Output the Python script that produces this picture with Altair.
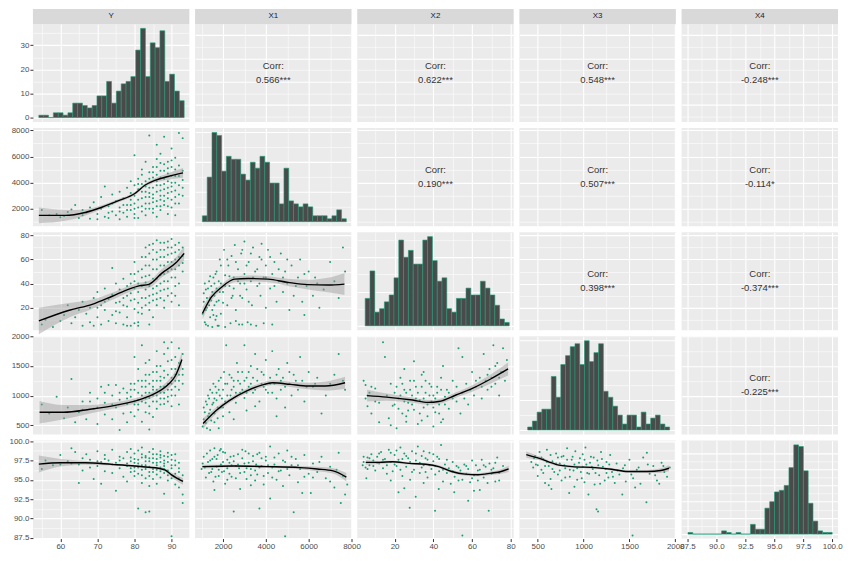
import numpy as np
import pandas as pd
import altair as alt

names = ["Y", "X1", "X2", "X3", "X4"]

# axis ranges (x: variable as a column, y: variable as a row)
x_domain = {"Y": [52.6, 94.8], "X1": [696, 8000], "X2": [0.7, 81.5],
            "X3": [300, 2006], "X4": [87.0, 100.5]}
y_domain = {"Y": [52.6, 94.8], "X1": [672, 8170], "X2": [1.2, 82.7],
            "X3": [345, 2000], "X4": [87.4, 100.1]}
major = {"Y": [60, 70, 80, 90], "X1": [2000, 4000, 6000, 8000], "X2": [20, 40, 60, 80],
         "X3": [500, 1000, 1500, 2000], "X4": [87.5, 90, 92.5, 95, 97.5, 100]}
minor = {"Y": [55, 65, 75, 85], "X1": [1000, 3000, 5000, 7000], "X2": [10, 30, 50, 70],
         "X3": [750, 1250, 1750], "X4": [88.75, 91.25, 93.75, 96.25, 98.75]}
fmt = {"Y": "d", "X1": "d", "X2": "d", "X3": "d", "X4": ".1f"}

# diagonal histograms (30 bins)
y_counts = [1, 1, 0, 2, 2, 1, 2, 6, 6, 5, 4, 5, 9, 9, 15, 6, 11, 14, 15, 17, 28, 37, 17, 31, 29, 36, 15, 18, 11, 7]
x1_counts = [2, 15, 30, 29, 17, 22, 21, 21, 16, 14, 20, 18, 22, 20, 13, 13, 6, 18, 7, 6, 5, 6, 5, 2, 2, 2, 1, 2, 4, 1]
x2_counts = [8, 16, 4, 5, 7, 9, 14, 25, 20, 22, 18, 18, 25, 26, 19, 13, 14, 5, 4, 8, 8, 11, 9, 9, 13, 11, 9, 6, 2, 1]
x3_counts = [1, 3, 6, 7, 7, 18, 11, 22, 25, 28, 29, 22, 30, 23, 26, 29, 13, 11, 8, 5, 2, 5, 5, 1, 6, 2, 4, 5, 2, 1]
x4_counts = [1, 0, 0, 0, 0, 0, 0, 2, 1, 0, 1, 0, 0, 6, 3, 3, 16, 20, 26, 27, 30, 41, 55, 54, 39, 19, 8, 2, 1, 1]
hist_counts = {"Y": y_counts, "X1": x1_counts, "X2": x2_counts, "X3": x3_counts, "X4": x4_counts}
hist_range = {"Y": (54.2, 93.4), "X1": (1037, 7758), "X2": (4.8, 79.2),
              "X3": (390, 1938), "X4": (87.55, 100.0)}
count_major = {"Y": [0, 10, 20, 30], "X1": [0, 10, 20, 30], "X2": [0, 10, 20],
               "X3": [0, 10, 20, 30], "X4": [0, 10, 20, 30, 40, 50]}
count_minor = {"Y": [5, 15, 25, 35], "X1": [5, 15, 25], "X2": [5, 15, 25],
               "X3": [5, 15, 25], "X4": [5, 15, 25, 35, 45]}

# upper triangle
corr = {("Y", "X1"): "0.566***", ("Y", "X2"): "0.622***", ("Y", "X3"): "0.548***",
        ("Y", "X4"): "-0.248***", ("X1", "X2"): "0.190***", ("X1", "X3"): "0.507***",
        ("X1", "X4"): "-0.114*", ("X2", "X3"): "0.398***", ("X2", "X4"): "-0.374***",
        ("X3", "X4"): "-0.225***"}

# lower triangle scatter points (x var, y var)
pts_y_x1 = [(55, 1900), (57, 1500), (59, 1600), (61, 1450), (62, 1750), (63, 1950), (64, 2300), (65, 1300),
            (66, 1500), (67, 1700), (68, 1250), (68, 2100), (69, 2500), (70, 1600), (70, 1200), (71, 2000),
            (71, 2900), (72, 1400), (72, 3700), (73, 2200), (73, 1300), (74, 3100), (74, 1800), (75, 2600),
            (75, 1500), (76, 3300), (76, 2100), (76, 1200), (77, 2800), (77, 1700), (78, 3600), (78, 2300),
            (78, 1400), (79, 4100), (79, 2700), (79, 1900), (79, 3200), (80, 6100), (80, 3800), (80, 2400),
            (80, 1600), (80, 3000), (81, 4300), (81, 2100), (81, 3500), (81, 1300), (82, 5000), (82, 2800),
            (82, 3900), (82, 1800), (82, 4600), (83, 3300), (83, 2400), (83, 5600), (83, 1500), (83, 4100),
            (84, 7600), (84, 2900), (84, 3600), (84, 2000), (84, 4800), (85, 5200), (85, 3100), (85, 1700),
            (85, 4400), (85, 2500), (86, 6900), (86, 3800), (86, 2200), (86, 5800), (86, 4100), (86, 1400),
            (87, 6200), (87, 3400), (87, 2700), (87, 4900), (87, 1900), (88, 7500), (88, 4300), (88, 3000),
            (88, 5400), (88, 2300), (89, 3600), (89, 4700), (89, 1600), (89, 2800), (90, 6600), (90, 4000),
            (90, 5200), (90, 2100), (90, 3300), (91, 4500), (91, 2900), (91, 5900), (91, 1500), (92, 7800),
            (92, 3800), (92, 2400), (93, 7400), (93, 4200), (93, 3000),
            (80, 2000), (81, 2700), (81, 3900), (82, 2200), (82, 3300), (83, 2000), (83, 2900), (83, 3700),
            (84, 2400), (84, 3200), (84, 4300), (85, 2000), (85, 2800), (85, 3600), (85, 4800), (86, 2600),
            (86, 3300), (86, 4600), (86, 5200), (87, 2200), (87, 3000), (87, 3800), (87, 4400), (87, 5500),
            (88, 2600), (88, 3500), (88, 3900), (88, 4900), (89, 2200), (89, 3200), (89, 4100), (89, 5100),
            (89, 5600), (90, 2700), (90, 3700), (90, 4500), (90, 5700), (91, 2400), (91, 3400), (91, 4000),
            (91, 5000), (92, 3100), (92, 4500), (92, 5300), (93, 3600), (93, 4900), (77, 2300), (78, 1900),
            (79, 2300), (80, 1300), (76, 1800), (74, 2400), (73, 1700), (66, 1900), (60, 1350)]
pts_y_x2 = [(55, 6), (56, 10), (58, 4), (60, 9), (61, 14), (62, 22), (63, 7), (64, 12), (65, 18), (66, 5),
            (66, 25), (67, 15), (68, 20), (68, 8), (69, 5), (69, 28), (70, 12), (70, 33), (71, 6), (71, 22),
            (72, 18), (72, 36), (73, 9), (73, 27), (74, 53), (74, 14), (74, 31), (75, 7), (75, 24), (75, 40),
            (76, 16), (76, 35), (77, 6), (77, 28), (77, 44), (78, 21), (78, 12), (78, 38), (79, 5), (79, 32),
            (79, 26), (79, 48), (80, 7), (80, 19), (80, 36), (80, 42), (80, 58), (81, 24), (81, 33), (81, 50),
            (81, 8), (82, 28), (82, 45), (82, 62), (82, 15), (82, 38), (83, 22), (83, 35), (83, 55), (83, 70),
            (83, 41), (84, 30), (84, 47), (84, 18), (84, 65), (84, 38), (85, 26), (85, 52), (85, 73), (85, 36),
            (85, 12), (86, 44), (86, 60), (86, 32), (86, 76), (86, 22), (87, 40), (87, 55), (87, 68), (87, 28),
            (88, 48), (88, 62), (88, 74), (88, 35), (88, 20), (89, 58), (89, 70), (89, 42), (89, 30), (90, 65),
            (90, 77), (90, 52), (90, 25), (91, 60), (91, 72), (91, 45), (91, 38), (92, 68), (92, 55), (92, 22),
            (93, 63), (93, 50),
            (80, 27), (80, 48), (81, 40), (81, 16), (82, 20), (82, 52), (83, 28), (83, 46), (83, 62), (84, 24),
            (84, 55), (84, 72), (85, 31), (85, 44), (85, 60), (85, 68), (86, 27), (86, 38), (86, 52), (86, 66),
            (87, 34), (87, 47), (87, 62), (87, 74), (88, 26), (88, 42), (88, 55), (88, 68), (89, 36), (89, 50),
            (89, 64), (89, 75), (90, 32), (90, 45), (90, 58), (90, 70), (91, 52), (91, 66), (91, 30), (92, 40),
            (92, 62), (92, 74), (93, 57), (93, 70), (79, 40), (78, 30), (77, 22), (76, 25), (75, 17), (72, 25),
            (70, 20), (81, 5), (84, 6), (78, 5)]
pts_x1_x2 = [(1050, 15), (1100, 25), (1150, 8), (1200, 35), (1250, 20), (1300, 5), (1350, 42), (1400, 12),
             (1400, 28), (1450, 38), (1500, 18), (1500, 4), (1550, 45), (1600, 30), (1600, 22), (1650, 10),
             (1700, 50), (1700, 36), (1750, 5), (1800, 26), (1850, 60), (1900, 40), (1900, 15), (2000, 33),
             (2050, 68), (2100, 4), (2100, 47), (2200, 22), (2250, 55), (2300, 38), (2350, 7), (2400, 63),
             (2450, 30), (2500, 45), (2550, 72), (2600, 18), (2700, 52), (2750, 6), (2800, 40), (2850, 65),
             (2900, 28), (3000, 75), (3000, 48), (3100, 35), (3150, 8), (3200, 58), (3300, 42), (3350, 22),
             (3400, 70), (3500, 50), (3550, 5), (3600, 38), (3700, 62), (3750, 30), (3800, 73), (3900, 45),
             (4000, 55), (4000, 20), (4100, 68), (4200, 36), (4300, 48), (4400, 58), (4500, 25), (4600, 42),
             (4700, 65), (4800, 33), (4900, 50), (5000, 40), (5100, 18), (5200, 55), (5300, 30), (5500, 45),
             (5600, 60), (5700, 25), (5900, 38), (6000, 50), (6200, 30), (6300, 45), (6500, 20), (6700, 35),
             (7000, 58), (7200, 42), (7400, 28), (7600, 70), (7700, 50), (5800, 14), (4300, 6), (2600, 9),
             (1700, 13),
             (1100, 32), (1150, 40), (1200, 18), (1250, 28), (1300, 36), (1350, 22), (1400, 46), (1450, 26),
             (1500, 33), (1550, 14), (1600, 40), (1650, 48), (1700, 25), (1800, 42), (1850, 33), (1900, 55),
             (2000, 24), (2100, 38), (2200, 60), (2300, 46), (2400, 28), (2500, 36), (2600, 58), (2700, 42),
             (2800, 30), (2900, 68), (3000, 40), (3100, 55), (3200, 25), (3300, 65), (3400, 45), (3600, 52),
             (3700, 40), (3800, 60), (4000, 45), (4200, 62), (4400, 38), (4600, 52), (4800, 45), (5000, 60),
             (5400, 38), (5800, 48), (6400, 40), (1200, 6), (1800, 5), (3300, 6), (3900, 7), (2900, 6)]
pts_y_x3 = [(55, 850), (57, 700), (59, 980), (61, 620), (62, 800), (63, 1280), (64, 550), (65, 720), (66, 900),
            (67, 600), (68, 1050), (69, 780), (70, 520), (70, 950), (71, 1150), (72, 680), (72, 880), (73, 1180),
            (74, 600), (74, 1000), (75, 800), (75, 1180), (76, 420), (76, 930), (77, 700), (77, 1120), (78, 860),
            (78, 550), (78, 1050), (79, 980), (79, 720), (79, 1200), (80, 850), (80, 650), (80, 1100), (80, 1650),
            (81, 930), (81, 1250), (81, 760), (82, 1000), (82, 560), (82, 1150), (82, 1850), (83, 880),
            (83, 1350), (83, 1050), (83, 720), (84, 960), (84, 1200), (84, 1600), (84, 820), (84, 430),
            (85, 1100), (85, 1400), (85, 900), (85, 640), (86, 1000), (86, 1250), (86, 1750), (86, 780),
            (87, 1150), (87, 1500), (87, 950), (87, 1320), (88, 1050), (88, 1700), (88, 860), (88, 1420),
            (89, 1200), (89, 980), (89, 1580), (89, 1800), (90, 1300), (90, 1100), (90, 1900), (90, 820),
            (91, 1450), (91, 1250), (91, 1650), (91, 1000), (92, 1800), (92, 1350), (92, 1550), (92, 850),
            (93, 1700), (93, 1200), (93, 1450),
            (78, 950), (79, 1100), (80, 900), (80, 1200), (81, 1050), (81, 850), (82, 1250), (82, 900),
            (83, 1150), (83, 950), (83, 1250), (84, 1050), (84, 1350), (84, 700), (85, 1000), (85, 1250),
            (85, 1150), (86, 900), (86, 1100), (86, 1400), (87, 1050), (87, 1250), (87, 850), (88, 1150),
            (88, 1300), (88, 950), (89, 1100), (89, 1350), (89, 900), (90, 1200), (90, 1450), (90, 1000),
            (91, 1150), (91, 1350), (92, 1100), (92, 1250), (93, 1350), (76, 1050), (74, 850), (72, 1050),
            (70, 800), (68, 900), (66, 760), (83, 1550), (86, 1500), (90, 1600), (88, 1900), (81, 1450)]
pts_x1_x3 = [(1050, 480), (1100, 600), (1150, 720), (1200, 540), (1250, 850), (1300, 650), (1350, 950),
             (1400, 760), (1450, 580), (1500, 1050), (1550, 880), (1600, 700), (1650, 1150), (1700, 920),
             (1750, 620), (1800, 1250), (1850, 1000), (1900, 800), (2000, 1100), (2050, 1400), (2100, 900),
             (2150, 1850), (2200, 1200), (2300, 720), (2350, 1000), (2400, 1300), (2500, 1150), (2600, 880),
             (2650, 1550), (2700, 1250), (2800, 1050), (2900, 1400), (3000, 1850), (3000, 960), (3100, 1300),
             (3200, 1150), (3300, 1500), (3400, 1050), (3500, 1700), (3600, 1250), (3700, 900), (3800, 1400),
             (3900, 1150), (4000, 1600), (4100, 1050), (4200, 1300), (4300, 1750), (4400, 1200), (4500, 950),
             (4600, 1450), (4700, 1100), (4800, 1300), (4900, 800), (5000, 1550), (5100, 1200), (5200, 1000),
             (5300, 1350), (5500, 1100), (5600, 1650), (5700, 1250), (5800, 900), (6000, 1400), (6200, 1150),
             (6400, 1300), (6600, 700), (6800, 1000), (7000, 1200), (7200, 1350), (7400, 1700), (7600, 1250),
             (7700, 1100), (4500, 650), (3500, 820), (2500, 600), (1800, 450), (1400, 420),
             (1100, 800), (1150, 550), (1200, 900), (1300, 1000), (1350, 700), (1400, 1100), (1500, 850),
             (1550, 1200), (1600, 950), (1700, 1050), (1750, 800), (1800, 1100), (1900, 1300), (1950, 950),
             (2000, 800), (2100, 1200), (2200, 1000), (2300, 1350), (2400, 1100), (2500, 1250), (2600, 1050),
             (2700, 1400), (2800, 1200), (2900, 1100), (3000, 1250), (3100, 1050), (3200, 1400), (3300, 1200),
             (3400, 1300), (3500, 1100), (3600, 1450), (3800, 1200), (3900, 1350), (4000, 1100), (4200, 1200),
             (4300, 1050), (4500, 1350), (4700, 1250), (4900, 1150), (5100, 1400), (5400, 1250), (5900, 1150),
             (6300, 1200), (1250, 450), (1600, 550), (2000, 650), (3100, 750)]
pts_x2_x3 = [(4, 1250), (5, 950), (5, 1180), (6, 820), (7, 1050), (8, 700), (10, 1120), (12, 880), (14, 1900),
             (15, 1650), (16, 1000), (17, 620), (18, 1200), (19, 830), (20, 1050), (21, 450), (22, 950),
             (23, 1300), (24, 700), (25, 1100), (26, 560), (27, 880), (28, 1250), (29, 1000), (30, 760),
             (31, 1150), (32, 520), (33, 920), (34, 1350), (35, 800), (36, 1050), (37, 650), (38, 1200),
             (39, 900), (40, 1000), (41, 720), (42, 1150), (43, 850), (44, 1300), (45, 600), (46, 980),
             (47, 1100), (48, 780), (50, 1250), (52, 900), (53, 1800), (54, 700), (55, 1050), (57, 1200),
             (58, 850), (60, 1400), (61, 1000), (62, 1150), (64, 1300), (65, 950), (66, 1700), (67, 1250),
             (68, 1100), (69, 1450), (70, 1300), (71, 1850), (72, 1200), (73, 1550), (74, 1000), (75, 1400),
             (76, 1800), (77, 1250), (78, 1600), (30, 1580), (35, 1400), (25, 1450), (45, 1500), (55, 1650),
             (12, 550), (40, 480),
             (20, 850), (21, 1150), (22, 780), (23, 1000), (24, 1200), (25, 900), (26, 1050), (27, 750),
             (28, 1100), (29, 850), (30, 1250), (31, 950), (32, 1050), (33, 700), (34, 1150), (35, 950),
             (36, 1250), (37, 850), (38, 1000), (39, 1150), (40, 800), (41, 950), (42, 1050), (43, 700),
             (44, 1100), (46, 850), (48, 1050), (50, 950), (52, 1150), (56, 950), (59, 1100), (62, 1250),
             (65, 1150), (68, 1350), (70, 1150), (72, 1500), (74, 1300), (76, 1400), (6, 1000), (8, 1150),
             (10, 900), (26, 650), (34, 580), (18, 500), (44, 550)]
pts_y_x4 = [(55, 96.4), (56, 97.5), (58, 96.9), (60, 98.2), (62, 97.4), (63, 99.1), (64, 98.6), (65, 94.6),
            (65, 97.0), (66, 96.2), (67, 98.3), (68, 97.6), (69, 95.1), (70, 96.8), (70, 98.7), (71, 97.3),
            (71, 94.5), (72, 96.1), (72, 98.2), (73, 97.5), (74, 95.9), (74, 98.9), (75, 93.6), (75, 97.2),
            (76, 96.5), (76, 98.0), (77, 95.4), (77, 97.8), (78, 96.8), (78, 98.6), (78, 94.8), (79, 97.4),
            (79, 96.0), (79, 99.0), (80, 95.5), (80, 97.7), (80, 96.6), (80, 98.4), (81, 91.3), (81, 97.1),
            (81, 95.8), (81, 98.8), (82, 96.3), (82, 97.9), (82, 94.6), (82, 99.2), (83, 90.8), (83, 96.9),
            (83, 95.2), (83, 98.1), (84, 90.9), (84, 97.4), (84, 96.0), (84, 98.6), (84, 94.2), (85, 97.8),
            (85, 96.4), (85, 95.1), (85, 99.0), (86, 97.2), (86, 95.7), (86, 98.3), (86, 94.5), (87, 96.6),
            (87, 97.9), (87, 95.3), (87, 98.7), (88, 93.2), (88, 96.8), (88, 97.5), (88, 95.9), (89, 96.2),
            (89, 98.0), (89, 94.9), (90, 87.7), (90, 96.5), (90, 97.6), (90, 95.2), (91, 96.9), (91, 94.4),
            (91, 98.3), (92, 94.0), (92, 96.0), (92, 97.2), (93, 92.0), (93, 93.1), (93, 95.6),
            (78, 97.1), (79, 97.9), (79, 96.5), (80, 96.1), (80, 97.2), (81, 96.6), (81, 97.6), (82, 96.9),
            (82, 95.6), (82, 98.3), (83, 97.4), (83, 96.4), (83, 97.9), (84, 96.7), (84, 97.8), (84, 95.5),
            (85, 97.2), (85, 96.0), (85, 98.3), (86, 96.9), (86, 97.7), (86, 96.3), (87, 97.3), (87, 96.1),
            (87, 98.2), (88, 96.4), (88, 98.1), (88, 97.1), (89, 97.3), (89, 95.6), (89, 98.5), (90, 96.9),
            (90, 98.2), (91, 95.8), (91, 97.5), (92, 96.5), (92, 95.2), (76, 97.5), (74, 97.0), (72, 97.7),
            (70, 97.4), (68, 96.6), (66, 97.8), (63, 97.1), (60, 97.0)]
pts_x1_x4 = [(1000, 96.4), (1100, 98.0), (1200, 95.3), (1300, 97.3), (1400, 98.8), (1450, 96.0), (1500, 97.7),
             (1550, 94.8), (1600, 93.7), (1600, 99.1), (1700, 96.7), (1750, 98.2), (1800, 95.5), (1900, 97.0),
             (2000, 98.6), (2050, 96.1), (2100, 94.5), (2200, 97.6), (2300, 95.8), (2350, 98.0), (2400, 96.9),
             (2500, 90.9), (2500, 97.4), (2600, 95.2), (2700, 98.3), (2750, 96.5), (2800, 93.8), (2900, 97.8),
             (3000, 96.0), (3050, 98.7), (3100, 95.1), (3200, 97.2), (3300, 96.4), (3400, 98.1), (3500, 94.9),
             (3550, 97.0), (3600, 95.7), (3700, 91.3), (3700, 98.5), (3800, 96.8), (3900, 94.4), (4000, 97.5),
             (4100, 95.9), (4200, 92.6), (4200, 99.3), (4300, 96.6), (4400, 97.9), (4500, 95.0), (4600, 98.4),
             (4700, 96.2), (4800, 94.2), (4900, 87.7), (4900, 97.3), (5000, 98.8), (5100, 95.6), (5200, 96.9),
             (5300, 90.8), (5400, 97.7), (5500, 94.7), (5600, 96.4), (5700, 93.3), (5800, 98.2), (6000, 95.8),
             (6100, 93.3), (6200, 97.1), (6400, 96.0), (6600, 98.0), (6800, 95.2), (7000, 96.7), (7200, 94.0),
             (7400, 98.5), (7500, 92.0), (7600, 95.5), (7700, 93.1), (7800, 94.4), (2200, 95.0), (3300, 94.3),
             (1900, 99.0),
             (1050, 97.1), (1150, 96.6), (1250, 98.4), (1350, 95.9), (1400, 97.5), (1500, 96.4), (1600, 98.0),
             (1650, 95.4), (1700, 97.7), (1800, 96.3), (1850, 98.8), (1950, 96.0), (2000, 97.3), (2100, 98.5),
             (2200, 96.5), (2300, 97.2), (2400, 95.4), (2500, 98.1), (2600, 96.8), (2700, 97.0), (2800, 95.9),
             (2900, 98.9), (3000, 97.1), (3100, 96.5), (3200, 98.4), (3300, 95.6), (3400, 97.4), (3500, 96.2),
             (3600, 98.3), (3700, 96.6), (3800, 97.8), (3900, 95.5), (4000, 98.0), (4100, 96.9), (4300, 95.3),
             (4400, 97.0), (4600, 96.1), (4800, 97.5), (5000, 96.4), (5200, 98.0), (5500, 96.9), (5800, 95.4),
             (6200, 95.3), (6500, 97.3), (7000, 94.8), (7300, 96.3)]
pts_x2_x4 = [(4, 97.3), (5, 96.6), (5.4, 95.2), (6, 97.9), (7, 96.9), (8, 98.3), (9, 97.5), (10, 96.2),
             (11, 98.0), (12, 97.1), (13, 98.6), (14, 96.5), (15, 97.7), (16, 95.8), (17, 98.9), (18, 97.3),
             (19, 96.1), (20, 98.2), (21, 96.8), (22, 93.4), (22, 97.6), (23, 99.2), (24, 95.5), (25, 98.4),
             (26, 96.7), (27, 97.8), (27.8, 91.4), (28, 95.0), (29, 98.7), (30, 96.3), (30.9, 92.8), (31, 97.5),
             (32, 99.3), (33, 95.9), (34, 98.1), (35, 96.9), (36, 97.8), (37, 95.3), (38, 98.5), (39, 96.4),
             (40, 97.4), (40.9, 91.0), (41, 95.7), (42, 98.0), (42.8, 93.8), (43, 96.1), (44, 99.5), (45, 94.8),
             (46, 97.0), (47, 95.9), (48, 96.5), (49, 94.5), (50, 97.3), (50.8, 93.4), (51, 95.4), (52, 96.8),
             (53, 94.9), (54, 96.2), (55, 87.8), (55, 95.0), (56, 97.0), (57, 95.8), (58, 92.3), (58, 96.4),
             (59, 94.7), (60, 97.5), (61, 93.6), (61, 95.6), (62, 96.9), (63, 94.9), (64, 93.7), (64, 96.3),
             (65, 97.6), (66, 95.3), (67, 96.7), (68, 94.6), (68.6, 91.0), (69, 97.1), (70, 95.8), (71, 96.5),
             (72, 94.8), (73, 97.9), (74, 95.9), (76, 96.8), (3.5, 96.9),
             (4, 98.0), (6, 96.4), (7, 97.8), (9, 96.8), (11, 97.2), (12, 98.4), (14, 97.6), (16, 96.9),
             (18, 98.5), (20, 97.0), (21, 98.8), (23, 96.3), (24, 97.7), (26, 98.1), (28, 97.3), (29, 96.0),
             (31, 98.4), (33, 97.2), (34, 96.6), (35, 98.7), (36, 96.0), (37, 97.6), (38, 96.9), (40, 98.3),
             (41, 96.8), (43, 97.7), (45, 96.3), (47, 97.6), (50, 96.1), (53, 96.6), (57, 96.8), (60, 95.2),
             (63, 96.2), (66, 96.9), (70, 96.3), (72, 97.2), (74, 94.9), (25, 93.9), (35, 94.6), (18, 94.9)]
pts_x3_x4 = [(430, 97.3), (450, 96.6), (470, 98.1), (480, 97.0), (500, 95.5), (520, 98.6), (540, 96.3),
             (560, 97.7), (580, 94.6), (600, 98.9), (620, 96.8), (640, 95.1), (649, 93.8), (660, 97.4),
             (680, 96.0), (700, 98.4), (720, 95.7), (740, 97.1), (760, 94.9), (780, 98.1), (800, 96.5),
             (820, 99.1), (843, 93.3), (850, 95.4), (870, 97.6), (890, 96.2), (910, 98.7), (930, 95.0),
             (950, 97.2), (970, 96.0), (990, 98.3), (1010, 94.7), (1030, 97.0), (1053, 93.1), (1060, 95.8),
             (1080, 98.0), (1100, 96.4), (1120, 94.4), (1141, 91.2), (1150, 97.5), (1158, 90.9), (1170, 95.6),
             (1190, 98.6), (1210, 96.7), (1230, 94.9), (1250, 97.3), (1270, 95.3), (1290, 98.2), (1310, 96.0),
             (1340, 94.6), (1360, 97.1), (1390, 95.7), (1422, 93.1), (1430, 96.5), (1460, 94.8), (1500, 97.6),
             (1534, 87.8), (1540, 95.2), (1562, 94.0), (1580, 96.3), (1620, 94.5), (1650, 97.9), (1685, 92.1),
             (1690, 98.5), (1720, 95.8), (1760, 96.8), (1800, 94.9), (1825, 94.5), (1850, 97.2), (1880, 96.0),
             (1910, 95.4), (1940, 96.6), (560, 95.9), (720, 97.9), (900, 94.1), (1020, 99.2), (1250, 95.9),
             (460, 97.8), (500, 96.9), (540, 97.9), (580, 96.8), (600, 97.3), (640, 98.2), (660, 96.4),
             (700, 97.1), (740, 96.2), (760, 98.0), (790, 96.9), (820, 97.6), (850, 96.3), (880, 98.0),
             (900, 97.0), (930, 96.5), (960, 97.8), (990, 96.7), (1010, 97.6), (1040, 95.9), (1070, 97.2),
             (1090, 96.7), (1110, 97.9), (1130, 95.9), (1160, 96.9), (1200, 97.7), (1240, 96.4), (1280, 97.0),
             (1320, 95.4), (1370, 96.2), (1450, 96.9), (1520, 95.7), (1600, 96.6), (1700, 97.0), (1780, 95.6),
             (1870, 96.8), (620, 94.3), (800, 95.3), (980, 95.2), (1180, 94.5)]
scatter = {("Y", "X1"): pts_y_x1, ("Y", "X2"): pts_y_x2, ("X1", "X2"): pts_x1_x2,
           ("Y", "X3"): pts_y_x3, ("X1", "X3"): pts_x1_x3, ("X2", "X3"): pts_x2_x3,
           ("Y", "X4"): pts_y_x4, ("X1", "X4"): pts_x1_x4, ("X2", "X4"): pts_x2_x4,
           ("X3", "X4"): pts_x3_x4}

# loess curves: x, fit, half-width of the band
smooth = {
    ("Y", "X1"): ([54.2, 61.3, 66.7, 71.2, 75.7, 80.1, 82.8, 85.5, 89.1, 93.1],
                  [1497, 1500, 1722, 2120, 2622, 3170, 3797, 4172, 4472, 4745],
                  [600, 420, 250, 160, 130, 130, 140, 170, 250, 380]),
    ("Y", "X2"): ([54.2, 62.4, 68.6, 74.0, 78.5, 81.2, 83.9, 87.5, 91.1, 93.4],
                  [9.0, 17.9, 22.8, 29.5, 35.4, 38.1, 39.4, 48.9, 57.0, 65.1],
                  [11, 6, 4, 3, 2.5, 2.5, 3, 3.5, 4.5, 6]),
    ("X1", "X2"): ([1046, 1463, 1931, 2548, 3169, 4101, 5032, 5964, 6895, 7670],
                   [15.4, 28.9, 37.0, 43.7, 44.2, 43.7, 41.0, 39.1, 38.8, 39.6],
                   [5, 3, 2.5, 2.5, 2.5, 2.5, 3, 4, 6, 9]),
    ("Y", "X3"): ([54.4, 60.9, 68.0, 75.1, 82.2, 85.7, 89.3, 91.0, 92.8],
                  [720, 720, 770, 840, 950, 1040, 1200, 1330, 1610],
                  [190, 120, 70, 50, 45, 50, 70, 90, 130]),
    ("X1", "X3"): ([1069, 1681, 2293, 3109, 3925, 4332, 5148, 5964, 6780, 7698],
                   [528, 748, 914, 1079, 1189, 1217, 1189, 1162, 1162, 1217],
                   [90, 50, 40, 40, 40, 40, 45, 55, 75, 100]),
    ("X2", "X3"): ([5.8, 15.9, 29.3, 37.2, 42.8, 51.7, 60.7, 69.6, 78.6],
                   [1000, 975, 925, 885, 900, 1010, 1130, 1280, 1450],
                   [100, 60, 45, 40, 40, 45, 55, 75, 110]),
    ("Y", "X4"): ([54.2, 60.0, 66.7, 73.9, 80.1, 83.7, 86.4, 88.2, 90.0, 93.1],
                  [97.04, 97.21, 97.21, 97.0, 96.79, 96.62, 96.5, 96.28, 95.65, 94.8],
                  [1.1, 0.5, 0.25, 0.15, 0.12, 0.12, 0.15, 0.2, 0.3, 0.45]),
    ("X1", "X4"): ([1037, 2503, 4049, 5593, 6400, 7137, 7758],
                   [96.71, 96.79, 96.71, 96.58, 96.4, 96.16, 95.35],
                   [0.25, 0.15, 0.15, 0.2, 0.28, 0.35, 0.55]),
    ("X2", "X4"): ([5.1, 12.2, 19.0, 27.5, 36.0, 42.8, 49.5, 56.4, 63.1, 69.9, 75.0, 78.9],
                   [97.26, 97.26, 97.34, 97.13, 97.01, 96.71, 96.08, 95.74, 95.66, 95.87, 96.08, 96.42],
                   [0.3, 0.2, 0.15, 0.15, 0.15, 0.18, 0.2, 0.2, 0.2, 0.25, 0.3, 0.4]),
    ("X3", "X4"): ([375, 518, 697, 876, 1126, 1305, 1483, 1698, 1842, 1931],
                   [98.27, 97.77, 97.01, 96.71, 96.58, 96.37, 96.07, 96.07, 96.20, 96.50],
                   [0.4, 0.25, 0.18, 0.15, 0.15, 0.15, 0.15, 0.2, 0.3, 0.4]),
}

W, H = 157, 98.5
TEAL = "#1B9E77"


def major_axis(vals, show, f, orient):
    kw = dict(values=vals, grid=True, gridColor="white", gridWidth=1.1, domain=False,
              title=None, orient=orient)
    if show:
        return alt.Axis(**kw, format=f, ticks=True, tickSize=3, tickWidth=1, tickColor="#333333",
                        labelColor="#4D4D4D", labelFontSize=8, labelPadding=1,
                        labelFlush=False, labelOverlap=False)
    return alt.Axis(**kw, labels=False, ticks=False)


def minor_axis(vals, orient):
    return alt.Axis(values=vals, grid=True, gridColor="white", gridWidth=0.55, domain=False,
                    labels=False, ticks=False, title=None, orient=orient)


def top_strip(label):
    base = alt.Chart(pd.DataFrame({"t": [label]}))
    box = base.mark_rect(color="#D9D9D9").encode(
        x=alt.value(0), x2=alt.value(W), y=alt.value(-15), y2=alt.value(0))
    txt = base.mark_text(fontSize=8, color="#1A1A1A").encode(
        x=alt.value(W / 2), y=alt.value(-7.5), text="t:N")
    return [box, txt]


def panel(i, j):
    rv, cv = names[i], names[j]
    xdom = x_domain[cv]
    xs = alt.Scale(domain=xdom, nice=False, zero=False)
    xa = major_axis(major[cv], i == 4, fmt[cv], "bottom")
    if i == j:
        top = max(hist_counts[cv])
        ydom = [-0.05 * top, 1.05 * top]
        ya = major_axis(count_major[cv], j == 0, "d", "left")
        ymin = count_minor[cv]
    else:
        ydom = y_domain[rv]
        ya = major_axis(major[rv], j == 0 and i > j, fmt[rv], "left")
        ymin = minor[rv]
    ys = alt.Scale(domain=ydom, nice=False, zero=False)

    # grid-only layer carrying the minor grid lines (invisible, zero-size marks)
    grid = alt.Chart(pd.DataFrame({"x": xdom, "y": ydom})).mark_point(opacity=0, size=0).encode(
        x=alt.X("x:Q", scale=xs, axis=minor_axis(minor[cv], "top")),
        y=alt.Y("y:Q", scale=ys, axis=minor_axis(ymin, "right")))
    layers = [grid]

    if i == j:
        counts = hist_counts[cv]
        lo, hi = hist_range[cv]
        edges = np.linspace(lo, hi, len(counts) + 1)
        df = pd.DataFrame({"x": edges[:-1], "x2": edges[1:], "n": counts, "z": 0})
        layers.append(alt.Chart(df).mark_rect(fill="#4A4A4A", stroke=TEAL, strokeWidth=0.6).encode(
            x=alt.X("x:Q", scale=xs, axis=xa), x2="x2:Q",
            y=alt.Y("n:Q", scale=ys, axis=ya), y2="z:Q"))
    elif i < j:
        df = pd.DataFrame({"x": [np.mean(xdom)], "y": [np.mean(ydom)],
                           "t": ["Corr:\n" + corr[(rv, cv)]]})
        layers.append(alt.Chart(df).mark_text(lineBreak="\n", lineHeight=14, fontSize=9.5, dy=-7,
                                              color="#333333").encode(
            x=alt.X("x:Q", scale=xs, axis=xa), y=alt.Y("y:Q", scale=ys, axis=ya), text="t:N"))
    else:
        pts = pd.DataFrame(scatter[(cv, rv)], columns=["x", "y"])
        sx, sf, se = smooth[(cv, rv)]
        sdf = pd.DataFrame({"x": sx, "fit": sf, "se": se})
        sdf["lo"] = sdf["fit"] - sdf["se"]
        sdf["hi"] = sdf["fit"] + sdf["se"]
        layers.append(alt.Chart(pts).mark_circle(size=4, color=TEAL, opacity=1).encode(
            x=alt.X("x:Q", scale=xs, axis=xa), y=alt.Y("y:Q", scale=ys, axis=ya)))
        layers.append(alt.Chart(sdf).mark_area(color="#999999", opacity=0.45,
                                               interpolate="monotone").encode(
            x=alt.X("x:Q", scale=xs, axis=None), y=alt.Y("lo:Q", scale=ys, axis=None), y2="hi:Q"))
        layers.append(alt.Chart(sdf).mark_line(color="black", strokeWidth=1.4,
                                               interpolate="monotone").encode(
            x=alt.X("x:Q", scale=xs, axis=None), y=alt.Y("fit:Q", scale=ys, axis=None)))
    if i == 0:
        layers += top_strip(cv)
    return alt.layer(*layers).resolve_axis(x="independent", y="independent").properties(
        width=W, height=H)


panels = [panel(i, j) for i in range(5) for j in range(5)]
chart = alt.concat(*panels, columns=5, spacing={"row": 5.5, "column": 5.75}, bounds="flush").properties(
    padding=0
).configure(font="Liberation Sans").configure_view(fill="#EBEBEB", strokeWidth=0)

chart.save("out.html", embed_options={"renderer": "svg", "actions": False})
